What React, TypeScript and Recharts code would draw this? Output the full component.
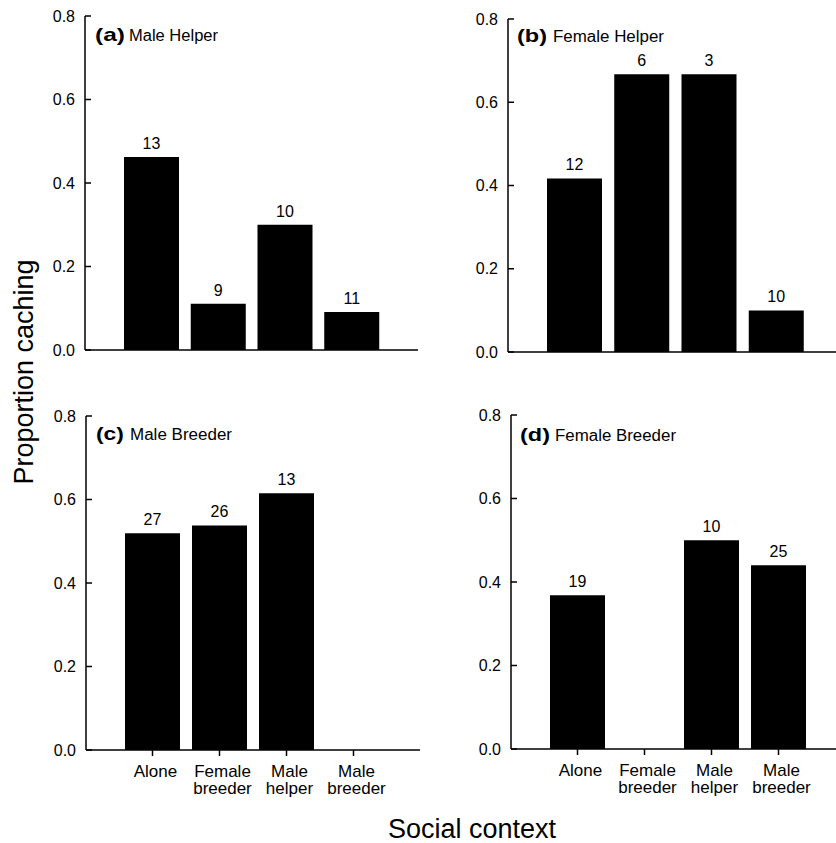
import React from "react";
import { BarChart, Bar, XAxis, YAxis, LabelList } from "recharts";

const categories = ["Alone", "Female breeder", "Male helper", "Male breeder"];
const yTicks = [0, 0.2, 0.4, 0.6, 0.8];

// proportion caching per panel, n above each bar
const maleHelper = [0.462, 0.111, 0.3, 0.091];
const maleHelperN = [13, 9, 10, 11];
const femaleHelper = [0.417, 0.667, 0.667, 0.1];
const femaleHelperN = [12, 6, 3, 10];
const maleBreeder = [0.519, 0.538, 0.615, null];
const maleBreederN = [27, 26, 13, null];
const femaleBreeder = [0.368, null, 0.5, 0.44];
const femaleBreederN = [19, null, 10, 25];

const FONT = "'Liberation Sans', Arial, Helvetica, sans-serif";

function build(values: (number | null)[], ns: (number | null)[]) {
  return categories.map((c, i) => ({ name: c, value: values[i], n: ns[i] }));
}

function CategoryTick(props: any) {
  const { x, y, payload } = props;
  const lines = String(payload.value).split(" ");
  return (
    <text x={x + 3} y={y} textAnchor="middle" fontSize={17} fill="#000">
      {lines.map((l, i) => (
        <tspan key={i} x={x + 3} dy={i === 0 ? 18.5 : 17.5}>
          {l}
        </tspan>
      ))}
    </text>
  );
}

interface PanelProps {
  data: { name: string; value: number | null; n: number | null }[];
  left: number;
  top: number;
  width: number;
  height: number;
  marginTop: number;
  yWidth: number;
  xHeight: number;
  labels: boolean;
}

function Panel({ data, left, top, width, height, marginTop, yWidth, xHeight, labels }: PanelProps) {
  return (
    <div style={{ position: "absolute", left, top }}>
      <BarChart
        width={width}
        height={height}
        data={data}
        margin={{ top: marginTop, right: 0, left: 0, bottom: 0 }}
      >
        <XAxis
          dataKey="name"
          interval={0}
          padding={{ left: 33, right: 33 }}
          height={xHeight}
          axisLine={{ stroke: "#000", strokeWidth: 1.5 }}
          tickLine={{ stroke: "#000", strokeWidth: 1.5 }}
          tickSize={6}
          tickMargin={2}
          tick={labels ? <CategoryTick /> : false}
        />
        {/* negative tickSize puts the y ticks inside the plot */}
        <YAxis
          width={yWidth}
          domain={[0, 0.8]}
          ticks={yTicks}
          interval={0}
          tickFormatter={(v) => Number(v).toFixed(1)}
          axisLine={{ stroke: "#000", strokeWidth: 1.5 }}
          tickLine={{ stroke: "#000", strokeWidth: 1.5 }}
          tickSize={-6}
          tickMargin={16}
          tick={{ fontSize: 16, fill: "#000" }}
        />
        <Bar dataKey="value" fill="#000" barSize={55} isAnimationActive={false}>
          <LabelList dataKey="n" position="top" offset={8} fontSize={16} fill="#000" />
        </Bar>
      </BarChart>
    </div>
  );
}

export default function App() {
  return (
    <div
      style={{
        position: "absolute",
        left: 0,
        top: 0,
        width: 836,
        height: 843,
        overflow: "hidden",
        background: "#fff",
        fontFamily: FONT,
      }}
    >
      <Panel data={build(maleHelper, maleHelperN)} left={0} top={0} width={418} height={400} marginTop={16} yWidth={85} xHeight={50} labels={false} />
      <Panel data={build(femaleHelper, femaleHelperN)} left={420} top={0} width={423} height={400} marginTop={19} yWidth={88} xHeight={48} labels={false} />
      <Panel data={build(maleBreeder, maleBreederN)} left={0} top={400} width={420} height={410} marginTop={16} yWidth={86} xHeight={60} labels={true} />
      <Panel data={build(femaleBreeder, femaleBreederN)} left={420} top={400} width={425} height={409} marginTop={15} yWidth={91} xHeight={60} labels={true} />

      <svg width={836} height={843} style={{ position: "absolute", left: 0, top: 0, pointerEvents: "none" }}>
        <g fill="#000">
          <text x={95} y={40.5} fontSize={19} fontWeight="bold" textLength={30} lengthAdjust="spacingAndGlyphs">(a)</text>
          <text x={129} y={40.5} fontSize={16} textLength={89} lengthAdjust="spacingAndGlyphs">Male Helper</text>
          <text x={517} y={41.5} fontSize={19} fontWeight="bold" textLength={30} lengthAdjust="spacingAndGlyphs">(b)</text>
          <text x={553} y={41.5} fontSize={16} textLength={111} lengthAdjust="spacingAndGlyphs">Female Helper</text>
          <text x={96} y={440} fontSize={19} fontWeight="bold" textLength={28} lengthAdjust="spacingAndGlyphs">(c)</text>
          <text x={130} y={440} fontSize={16} textLength={102} lengthAdjust="spacingAndGlyphs">Male Breeder</text>
          <text x={520} y={440.5} fontSize={19} fontWeight="bold" textLength={30} lengthAdjust="spacingAndGlyphs">(d)</text>
          <text x={555} y={440.5} fontSize={16} textLength={121} lengthAdjust="spacingAndGlyphs">Female Breeder</text>
          <text x={33} y={372} fontSize={27} textAnchor="middle" transform="rotate(-90, 33, 372)">
            Proportion caching
          </text>
          <text x={472} y={838} fontSize={27} textAnchor="middle">
            Social context
          </text>
        </g>
      </svg>
    </div>
  );
}
